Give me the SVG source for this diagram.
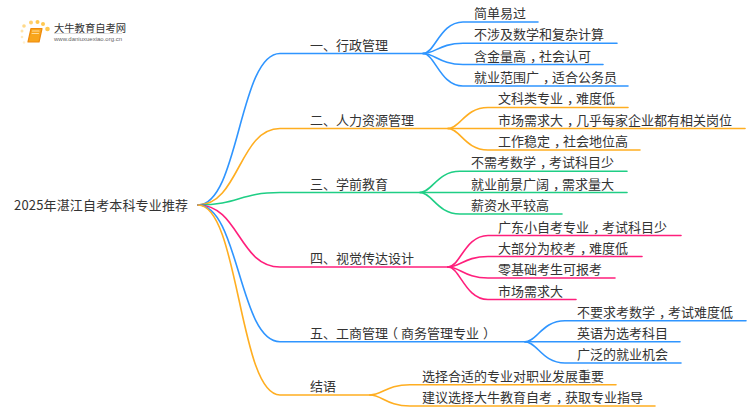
<svg xmlns="http://www.w3.org/2000/svg" width="750" height="410" viewBox="0 0 750 410">
<style>
text{font-family:"Noto Sans CJK SC","Liberation Sans",sans-serif;font-size:13px;fill:#333}
path{fill:none;stroke-width:1.6;stroke-linecap:round}
.b{stroke:#2f95ff}.o{stroke:#ffae21}.g{stroke:#1fce85}.p{stroke:#ff1f7c}
.c{letter-spacing:-4px}
</style>
<rect width="750" height="410" fill="#fff"/>
<g id="connectors">
<path class="b" d="M198,205C239,205 239,53.500 280,53.500H423"/>
<path class="b" d="M423,53.500C435,53.500 440,22 463,22H538"/>
<path class="b" d="M423,53.500C435,53.500 440,43.300 463,43.300H617"/>
<path class="b" d="M423,53.500C435,53.500 440,64.500 463,64.500H603"/>
<path class="b" d="M423,53.500C435,53.500 440,86 463,86H628"/>
<path class="o" d="M198,205C239,205 239,128.500 280,128.500H448"/>
<path class="o" d="M448,128.500C460,128.500 465,107.500 488,107.500H628"/>
<path class="o" d="M448,128.500H745"/>
<path class="o" d="M448,128.500C460,128.500 465,150 488,150H640"/>
<path class="g" d="M198,205C239,205 239,192.500 280,192.500H420"/>
<path class="g" d="M420,192.500C432,192.500 437,171.300 460,171.300H627"/>
<path class="g" d="M420,192.500H627"/>
<path class="g" d="M420,192.500C432,192.500 437,214 460,214H562"/>
<path class="p" d="M198,205C239,205 239,267 280,267H448"/>
<path class="p" d="M448,267C460,267 465,235.500 488,235.500H681"/>
<path class="p" d="M448,267C460,267 465,256.500 488,256.500H642"/>
<path class="p" d="M448,267C460,267 465,278 488,278H615"/>
<path class="p" d="M448,267C460,267 465,299.500 488,299.500H576"/>
<path class="b" d="M198,205C239,205 239,341.700 280,341.700H525"/>
<path class="b" d="M525,341.700C537,341.700 542,320.700 565,320.700H746"/>
<path class="b" d="M525,341.700H680"/>
<path class="b" d="M525,341.700C537,341.700 542,363 565,363H681"/>
<path class="o" d="M198,205C239,205 239,395 280,395H370"/>
<path class="o" d="M370,395C382,395 387,384.700 410,384.700H616"/>
<path class="o" d="M370,395C382,395 387,406 410,406H655"/>
</g>
<g id="logo">
<circle cx="24" cy="26" r="1.800" fill="#ffd98a"/><circle cx="31" cy="22.500" r="2" fill="#ffd070"/><circle cx="37.500" cy="22" r="2" fill="#ffc850"/><circle cx="43" cy="24" r="2" fill="#ffc850"/><circle cx="47.500" cy="29" r="2.300" fill="#ffc850"/><circle cx="22" cy="31" r="1.500" fill="#ffe4aa"/><circle cx="22" cy="37" r="1.300" fill="#ffeac0"/><circle cx="24" cy="42.500" r="1.200" fill="#fff0d0"/>
<path d="M31,28.500H42L39,42H28Z" style="fill:#f8a51c;stroke:#ee8a0c;stroke-width:1.200;stroke-linejoin:round"/>
<path d="M32.500,31H39" style="stroke:#ffdc9a;stroke-width:1.200"/>
<path d="M32,33.500H38.500" style="stroke:#ffdc9a;stroke-width:1"/>
<text x="54" y="31.500" style="font-size:10.300px">大牛教育自考网</text>
<rect x="54" y="33" width="68" height="0.700" fill="#ccc"/>
<text x="54" y="41" style="font-size:6px;font-family:'Liberation Sans',sans-serif;fill:#666">www.daniuxuexiao.org.cn</text>
</g>
<g id="root"><text x="14" y="210" letter-spacing="0.160">2025年湛江自考本科专业推荐</text></g>
<g id="n1"><text x="310" y="50">一、行政管理</text></g>
<g id="n1a"><text x="474" y="18">简单易过</text></g>
<g id="n1b"><text x="474" y="39">不涉及数学和复杂计算</text></g>
<g id="n1c"><text x="474" y="61">含金量高<tspan class="c" dx="4">，</tspan>社会认可</text></g>
<g id="n1d"><text x="474" y="82">就业范围广<tspan class="c" dx="4">，</tspan>适合公务员</text></g>
<g id="n2"><text x="310" y="125">二、人力资源管理</text></g>
<g id="n2a"><text x="498" y="103">文科类专业<tspan class="c" dx="4">，</tspan>难度低</text></g>
<g id="n2b"><text x="498" y="125">市场需求大<tspan class="c" dx="4">，</tspan>几乎每家企业都有相关岗位</text></g>
<g id="n2c"><text x="498" y="146">工作稳定<tspan class="c" dx="4">，</tspan>社会地位高</text></g>
<g id="n3"><text x="310" y="189">三、学前教育</text></g>
<g id="n3a"><text x="471" y="167">不需考数学<tspan class="c" dx="4">，</tspan>考试科目少</text></g>
<g id="n3b"><text x="471" y="189">就业前景广阔<tspan class="c" dx="4">，</tspan>需求量大</text></g>
<g id="n3c"><text x="471" y="210">薪资水平较高</text></g>
<g id="n4"><text x="310" y="263">四、视觉传达设计</text></g>
<g id="n4a"><text x="498" y="232">广东小自考专业<tspan class="c" dx="4">，</tspan>考试科目少</text></g>
<g id="n4b"><text x="498" y="253">大部分为校考<tspan class="c" dx="4">，</tspan>难度低</text></g>
<g id="n4c"><text x="498" y="274">零基础考生可报考</text></g>
<g id="n4d"><text x="498" y="296">市场需求大</text></g>
<g id="n5"><text x="310" y="338">五、工商管<tspan letter-spacing="-3">理</tspan><tspan letter-spacing="3">（</tspan>商务管理专业<tspan dx="4">）</tspan></text></g>
<g id="n5a"><text x="577" y="317">不要求考数学<tspan class="c" dx="4">，</tspan>考试难度低</text></g>
<g id="n5b"><text x="577" y="338">英语为选考科目</text></g>
<g id="n5c"><text x="577" y="359">广泛的就业机会</text></g>
<g id="n6"><text x="310" y="391">结语</text></g>
<g id="n6a"><text x="422" y="381">选择合适的专业对职业发展重要</text></g>
<g id="n6b"><text x="422" y="402">建议选择大牛教育自考<tspan class="c" dx="4">，</tspan>获取专业指导</text></g>
</svg>
